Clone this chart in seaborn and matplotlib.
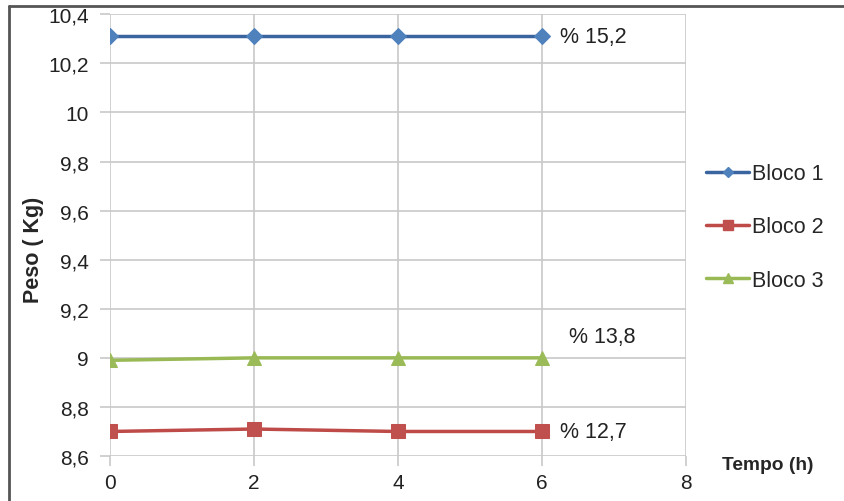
import matplotlib
matplotlib.use("Agg")
import matplotlib.pyplot as plt
from matplotlib.lines import Line2D
from matplotlib.ticker import FuncFormatter, MultipleLocator
import pandas as pd
import seaborn as sns

tempo = [0, 2, 4, 6]
bloco1 = [10.31, 10.31, 10.31, 10.31]
bloco2 = [8.70, 8.71, 8.70, 8.70]
bloco3 = [8.99, 9.00, 9.00, 9.00]
series_names = ["Bloco 1", "Bloco 2", "Bloco 3"]
perdas = ["% 15,2", "% 12,7", "% 13,8"]

sns.set_style("white")
plt.rcParams["font.family"] = ["Liberation Sans", "DejaVu Sans"]

df = pd.DataFrame({
    "Tempo": tempo * 3,
    "Peso": bloco1 + bloco2 + bloco3,
    "Serie": [s for s in series_names for _ in tempo],
})

line_colors = {"Bloco 1": "#3A64A0", "Bloco 2": "#BE4B48", "Bloco 3": "#98B954"}
marker_colors = {"Bloco 1": "#4F81BD", "Bloco 2": "#C0504D", "Bloco 3": "#9BBB59"}
markers = {"Bloco 1": "D", "Bloco 2": "s", "Bloco 3": "^"}
msizes = {"Bloco 1": 8, "Bloco 2": 10, "Bloco 3": 10}

fig = plt.figure(figsize=(8.45, 5.02), dpi=100)
ax = fig.add_axes([0.130, 0.0896, 0.682, 0.880])

for name in series_names:
    sub = df[df["Serie"] == name]
    sns.lineplot(data=sub, x="Tempo", y="Peso", ax=ax, color=line_colors[name],
                 marker=markers[name], markersize=msizes[name],
                 markerfacecolor=marker_colors[name], markeredgecolor=marker_colors[name],
                 linewidth=2.5, legend=False, zorder=3)

ax.set_xlim(0, 8)
ax.set_ylim(8.6, 10.4)
ax.xaxis.set_major_locator(MultipleLocator(2))
ax.yaxis.set_major_locator(MultipleLocator(0.2))

def comma(v, pos):
    s = f"{v:.1f}".rstrip("0").rstrip(".")
    return s.replace(".", ",")

ax.yaxis.set_major_formatter(FuncFormatter(comma))
ax.xaxis.set_major_formatter(FuncFormatter(lambda v, p: f"{v:g}"))

ax.grid(True, color="#C8C8C8", linewidth=1.2)
for sp in ax.spines.values():
    sp.set_visible(False)
ax.tick_params(axis="both", which="major", length=7, width=1.2, color="#C8C8C8",
               labelsize=15, labelcolor="#222222", left=True, bottom=True)
ax.tick_params(axis="y", pad=8)
ax.tick_params(axis="x", pad=5)
ax.set_xlabel("")
ax.set_ylabel("Peso ( Kg)", fontsize=15.5, fontweight="bold")
ax.yaxis.set_label_coords(-0.114, 0.47)

# loss percentages beside each series
ax.text(6.25, bloco1[-1], perdas[0], fontsize=15.5, va="center", ha="left", color="#222222")
ax.text(6.25, bloco2[-1], perdas[1], fontsize=15.5, va="center", ha="left", color="#222222")
ax.text(6.38, 9.085, perdas[2], fontsize=15.5, va="center", ha="left", color="#222222")

fig.text(0.855, 0.073, "Tempo (h)", fontsize=13.8, fontweight="bold", ha="left", va="center")

handles = [Line2D([0], [0], color=line_colors[n], lw=2.5, marker=markers[n],
                  markersize=msizes[n] * 0.7, markerfacecolor=marker_colors[n],
                  markeredgecolor=marker_colors[n]) for n in series_names]
fig.legend(handles, series_names, loc="center left", bbox_to_anchor=(0.813, 0.546),
           frameon=False, fontsize=15.5, handlelength=2.0, handletextpad=0.1,
           labelspacing=1.5)

# outer frame on the top and left edges
fig.add_artist(Line2D([9 / 845, 9 / 845], [0, 1 - 7 / 502], transform=fig.transFigure,
                      color="#555555", lw=2))
fig.add_artist(Line2D([9 / 845, 1], [1 - 7 / 502, 1 - 7 / 502], transform=fig.transFigure,
                      color="#555555", lw=2))

fig.savefig("out.png", dpi=100, facecolor="white")
